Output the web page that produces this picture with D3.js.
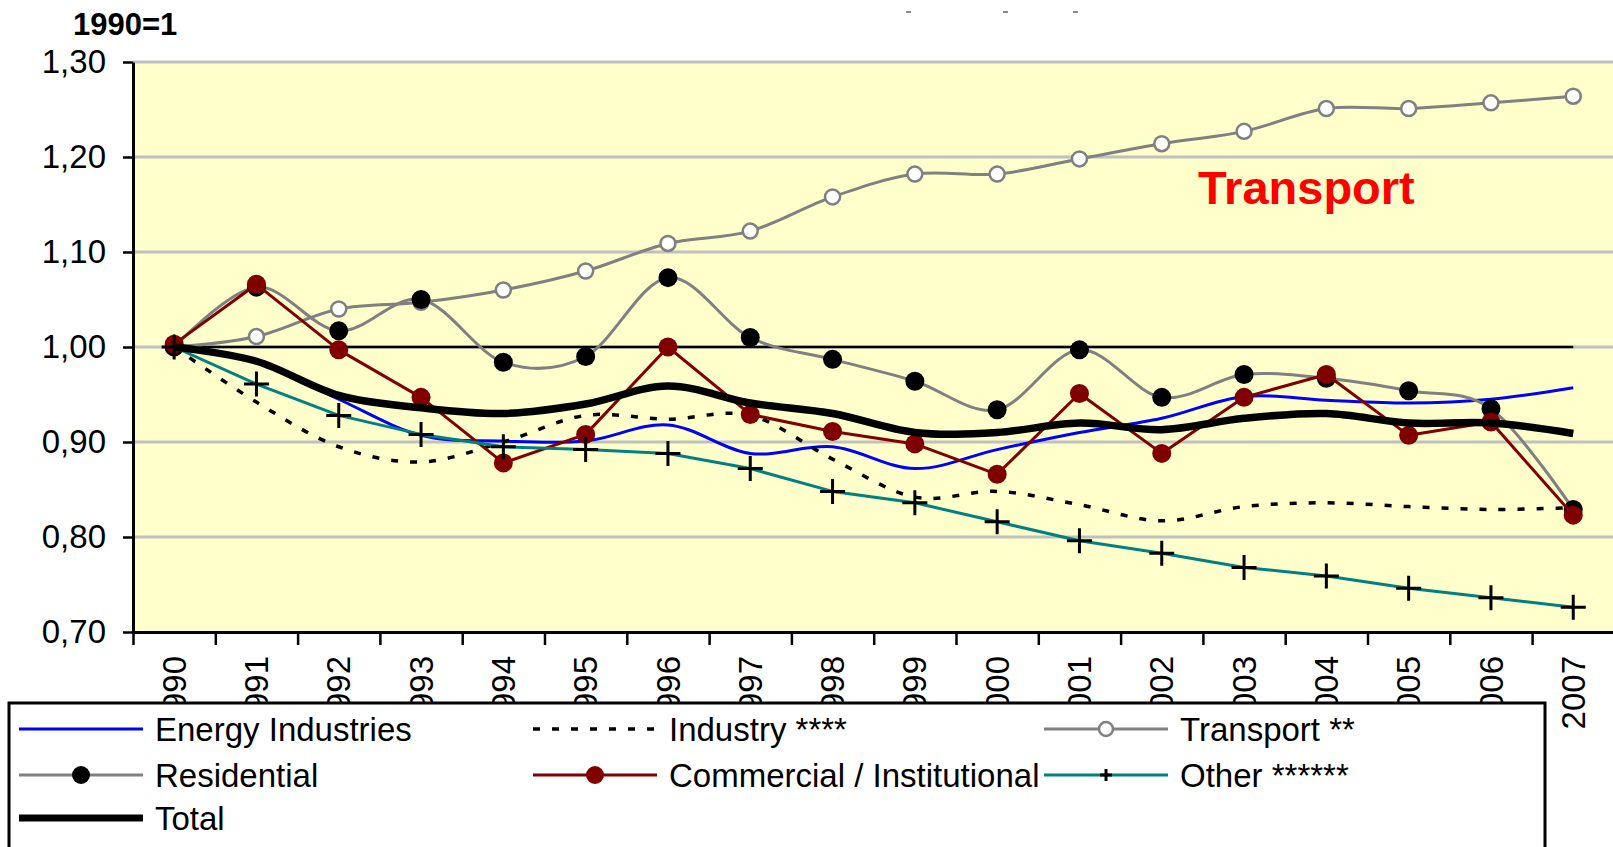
<!DOCTYPE html>
<html>
<head>
<meta charset="utf-8">
<script src="https://cdn.jsdelivr.net/npm/d3@7"></script>
<style>
  body { margin: 0; background: #fff; }
  text { font-family: "Liberation Sans", Arial, sans-serif; }
</style>
</head>
<body>
<div id="chart"></div>
<script>
// categories
const years = ['1990', '1991', '1992', '1993', '1994', '1995', '1996', '1997', '1998',
  '1999', '2000', '2001', '2002', '2003', '2004', '2005', '2006', '2007'];

// series values (1990 = 1)
const energy = [1.000, 0.986, 0.945, 0.907, 0.901, 0.901, 0.918, 0.888, 0.895, 0.872, 0.892, 0.910, 0.925, 0.948, 0.944, 0.941, 0.945, 0.957];
const industry = [1.000, 0.942, 0.895, 0.879, 0.900, 0.928, 0.924, 0.928, 0.882, 0.842, 0.848, 0.834, 0.817, 0.832, 0.836, 0.832, 0.829, 0.831];
const transport = [1.000, 1.011, 1.040, 1.047, 1.060, 1.080, 1.109, 1.122, 1.158, 1.182, 1.182, 1.198, 1.214, 1.227, 1.251, 1.251, 1.257, 1.264];
const residential = [1.000, 1.063, 1.017, 1.050, 0.984, 0.990, 1.073, 1.010, 0.987, 0.964, 0.934, 0.997, 0.947, 0.971, 0.967, 0.954, 0.935, 0.829];
const commercial = [1.003, 1.066, 0.997, 0.947, 0.878, 0.908, 1.000, 0.929, 0.911, 0.898, 0.866, 0.951, 0.888, 0.947, 0.971, 0.907, 0.921, 0.823];
const other = [1.000, 0.961, 0.928, 0.908, 0.895, 0.892, 0.888, 0.872, 0.848, 0.836, 0.816, 0.796, 0.783, 0.768, 0.759, 0.746, 0.736, 0.726];
const total = [1.000, 0.985, 0.949, 0.936, 0.930, 0.940, 0.959, 0.941, 0.930, 0.910, 0.910, 0.920, 0.913, 0.925, 0.930, 0.920, 0.920, 0.909];
const base = [1, 1, 1, 1, 1, 1, 1, 1, 1, 1, 1, 1, 1, 1, 1, 1, 1, 1];

// tick labels
const yTicks = [0.7, 0.8, 0.9, 1.0, 1.1, 1.2, 1.3];

// dimensions
const width = 1613;
const height = 847;
const plot = { left: 133, top: 62, bottom: 632, right: 1614.4 };
const font = 33;

const svg = d3.select('#chart')
  .append('svg')
  .attr('width', width)
  .attr('height', height);

const x = d3.scaleBand()
  .domain(years)
  .range([plot.left, plot.right])
  .padding(0);

const y = d3.scaleLinear()
  .domain([0.7, 1.3])
  .range([plot.bottom, plot.top]);

const cx = d => x(d) + x.bandwidth() / 2;

// plot background
svg.append('rect')
  .attr('x', plot.left)
  .attr('y', plot.top)
  .attr('width', plot.right - plot.left)
  .attr('height', plot.bottom - plot.top)
  .attr('fill', '#FFFFCC');

// gridlines
svg.append('g')
  .selectAll('line')
  .data(yTicks.slice(1))
  .enter().append('line')
  .attr('x1', plot.left)
  .attr('x2', plot.right)
  .attr('y1', d => y(d))
  .attr('y2', d => y(d))
  .attr('stroke', '#C0C0C0')
  .attr('stroke-width', 3);

// y axis
const yAxis = svg.append('g')
  .attr('transform', `translate(${plot.left},0)`)
  .call(d3.axisLeft(y)
    .tickValues(yTicks)
    .tickSize(10)
    .tickSizeOuter(0)
    .tickPadding(17)
    .tickFormat(d => d.toFixed(2).replace('.', ',')));
yAxis.select('.domain').attr('stroke', '#000').attr('stroke-width', 3);
yAxis.selectAll('.tick line').attr('stroke', '#000').attr('stroke-width', 2.5);
yAxis.selectAll('.tick text')
  .attr('fill', '#000')
  .style('font-size', `${font}px`);

// x axis: ticks at category edges, labels at centres
const edges = d3.scaleLinear().domain([0, years.length]).range([plot.left, plot.right]);
const xTicks = svg.append('g')
  .attr('transform', `translate(0,${plot.bottom})`)
  .call(d3.axisBottom(edges)
    .tickValues(d3.range(years.length + 1))
    .tickSize(13)
    .tickSizeOuter(0)
    .tickFormat(''));
xTicks.select('.domain').attr('stroke', '#000').attr('stroke-width', 3);
xTicks.selectAll('.tick line').attr('stroke', '#000').attr('stroke-width', 2.5);

svg.append('g')
  .selectAll('text')
  .data(years)
  .enter().append('text')
  .attr('transform', d => `translate(${cx(d)},${plot.bottom + 24}) rotate(-90)`)
  .attr('dy', '0.35em')
  .attr('text-anchor', 'end')
  .style('font-size', `${font}px`)
  .text(d => d);

// series
const straight = d3.line()
  .x((d, i) => cx(years[i]))
  .y(d => y(d));

const smooth = d3.line()
  .x((d, i) => cx(years[i]))
  .y(d => y(d))
  .curve(d3.curveCardinal.tension(0));

const series = [
  { values: base, color: '#000', width: 2.5, line: straight },
  { values: energy, color: '#0000FF', width: 3, line: smooth },
  { values: industry, color: '#000', width: 3.5, line: smooth, dash: '7,12' },
  { values: transport, color: '#808080', width: 3, line: smooth, marker: 'open' },
  { values: residential, color: '#808080', width: 3, line: smooth, marker: 'dot', markerColor: '#000' },
  { values: commercial, color: '#800000', width: 3, line: straight, marker: 'dot', markerColor: '#800000' },
  { values: other, color: '#008080', width: 3, line: straight, marker: 'cross' },
  { values: total, color: '#000', width: 7.5, line: smooth },
];

series.forEach(s => {
  const g = svg.append('g');
  g.append('path')
    .attr('d', s.line(s.values))
    .attr('fill', 'none')
    .attr('stroke', s.color)
    .attr('stroke-width', s.width)
    .attr('stroke-dasharray', s.dash || null)
    .attr('stroke-linejoin', 'round');

  if (s.marker === 'open') {
    g.selectAll('circle')
      .data(s.values)
      .enter().append('circle')
      .attr('cx', (d, i) => cx(years[i]))
      .attr('cy', d => y(d))
      .attr('r', 7.5)
      .attr('fill', '#fff')
      .attr('stroke', '#808080')
      .attr('stroke-width', 2.5);
  } else if (s.marker === 'dot') {
    g.selectAll('circle')
      .data(s.values)
      .enter().append('circle')
      .attr('cx', (d, i) => cx(years[i]))
      .attr('cy', d => y(d))
      .attr('r', 9.5)
      .attr('fill', s.markerColor);
  } else if (s.marker === 'cross') {
    g.selectAll('path.cross')
      .data(s.values)
      .enter().append('path')
      .attr('class', 'cross')
      .attr('d', (d, i) => {
        const px = cx(years[i]);
        const py = y(d);
        return `M${px - 12.5},${py}H${px + 12.5}M${px},${py - 12.5}V${py + 12.5}`;
      })
      .attr('stroke', '#000')
      .attr('stroke-width', 3)
      .attr('fill', 'none');
  }
});

// annotation and unit
svg.append('text')
  .attr('x', 1198)
  .attr('y', 204)
  .attr('fill', '#FF0000')
  .style('font-size', '47px')
  .style('font-weight', 'bold')
  .text('Transport');

svg.append('text')
  .attr('x', 73)
  .attr('y', 35)
  .style('font-size', '31px')
  .style('font-weight', 'bold')
  .text('1990=1');

// remnants of a cut-off title
svg.append('g')
  .selectAll('line')
  .data([906, 1003, 1073])
  .enter().append('line')
  .attr('x1', d => d)
  .attr('x2', d => d + 5)
  .attr('y1', 12)
  .attr('y2', 12)
  .attr('stroke', '#888')
  .attr('stroke-width', 2);

// legend
const legendItems = [
  { label: 'Energy Industries', color: '#0000FF', width: 3, col: 0, row: 0 },
  { label: 'Industry ****', color: '#000', width: 3.5, dash: '7,12', col: 1, row: 0 },
  { label: 'Transport **', color: '#808080', width: 3, marker: 'open', col: 2, row: 0 },
  { label: 'Residential', color: '#808080', width: 3, marker: 'dot', markerColor: '#000', col: 0, row: 1 },
  { label: 'Commercial / Institutional', color: '#800000', width: 3, marker: 'dot', markerColor: '#800000', col: 1, row: 1 },
  { label: 'Other ******', color: '#008080', width: 3, marker: 'cross', col: 2, row: 1 },
  { label: 'Total', color: '#000', width: 7, col: 0, row: 2 },
];
const colX = [19, 533, 1044];
const rowY = [729, 775, 818];
const sample = 124;

const legend = svg.append('g');
legend.append('rect')
  .attr('x', 9)
  .attr('y', 703)
  .attr('width', 1545 - 9)
  .attr('height', 200)
  .attr('fill', '#fff')
  .attr('stroke', '#000')
  .attr('stroke-width', 3);

const item = legend.selectAll('g.item')
  .data(legendItems)
  .enter().append('g')
  .attr('class', 'item')
  .attr('transform', d => `translate(${colX[d.col]},${rowY[d.row]})`);

item.append('line')
  .attr('x1', 0)
  .attr('x2', sample)
  .attr('stroke', d => d.color)
  .attr('stroke-width', d => d.width)
  .attr('stroke-dasharray', d => d.dash || null);

item.filter(d => d.marker === 'open').append('circle')
  .attr('cx', sample / 2)
  .attr('r', 7)
  .attr('fill', '#fff')
  .attr('stroke', '#808080')
  .attr('stroke-width', 2.5);

item.filter(d => d.marker === 'dot').append('circle')
  .attr('cx', sample / 2)
  .attr('r', 9)
  .attr('fill', d => d.markerColor);

item.filter(d => d.marker === 'cross').append('path')
  .attr('d', `M${sample / 2 - 6},0H${sample / 2 + 6}M${sample / 2},-6V6`)
  .attr('stroke', '#000')
  .attr('stroke-width', 3);

item.append('text')
  .attr('x', sample + 12)
  .attr('dy', '0.35em')
  .style('font-size', `${font}px`)
  .text(d => d.label);
</script>
</body>
</html>
